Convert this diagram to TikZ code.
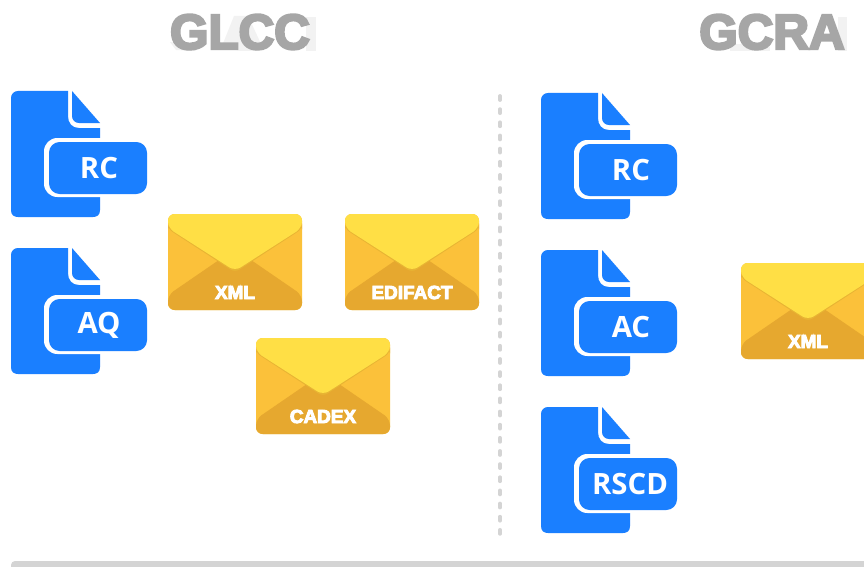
\documentclass[tikz,border=0pt]{standalone}
\usepackage{fontspec}
\setmainfont{Liberation Sans}
\newfontfamily\docfont{Open Sans}
\font\titlefont="Liberation Sans Bold:embolden=5" at 37pt
\font\envfont="Liberation Sans Bold:embolden=5" at 14.2pt
\definecolor{docblue}{HTML}{1A7FFF}
\definecolor{flapc}{HTML}{FFDF45}
\definecolor{sidec}{HTML}{FBC13A}
\definecolor{basec}{HTML}{E6A82F}
\definecolor{seamc}{HTML}{E8B433}
\definecolor{titlec}{HTML}{A6A6A6}
\definecolor{ghostc}{HTML}{F2F2F2}
\definecolor{rulec}{HTML}{D4D4D4}
\tikzset{
  doclabel/.style={text=white,font=\docfont\bfseries\fontsize{22}{24}\selectfont,inner sep=0pt,anchor=center},
  envlabel/.style={text=white,font=\envfont,inner sep=0pt,anchor=center},
  titletext/.style={text=titlec,font=\titlefont,inner sep=0pt,anchor=center},
  ghostshape/.style={fill=ghostc,draw=none},
}
% #1 x, #2 y, #3 node name, #4 text, #5 text x offset
\newcommand{\docicon}[5]{%
  \begin{scope}[shift={(#1,#2)}]
    \fill[docblue] (7,0) -- (57,0) -- (57,25) .. controls (57,32) and (61,37) .. (68,37) -- (89,37) -- (89,119) .. controls (89,124) and (86,126) .. (82,126) -- (7,126) .. controls (3,126) and (0,124) .. (0,119) -- (0,7) .. controls (0,3) and (3,0) .. (7,0) -- cycle;
    \fill[docblue] (61,0) -- (89,32) -- (68,32) .. controls (64,32) and (61,29) .. (61,25) -- cycle;
    \fill[white,rounded corners=10] (33,47) rectangle (141,106);
    \fill[docblue,rounded corners=8] (38,51) rectangle (136,103);
    \node[doclabel] (#3) at (#5,77) {#4};
  \end{scope}}
% #1 x, #2 y, #3 node name, #4 text
\newcommand{\envicon}[4]{%
  \begin{scope}[shift={(#1,#2)}]
    \fill[sidec,rounded corners=5] (0,0) rectangle (134,96);
    \fill[basec,rounded corners=5] (0,81) -- (67,35) -- (134,81) -- (134,96) -- (0,96) -- cycle;
    \fill[seamc,rounded corners=4] (0,15) -- (67,58.5) -- (134,15) -- (134,10) -- (0,10) -- cycle;
    \fill[flapc,rounded corners=5] (0,14) -- (0,0) -- (134,0) -- (134,14) -- (67,57) -- cycle;
    \node[envlabel] (#3) at (67,78.5) {#4};
  \end{scope}}
\begin{document}
\begin{tikzpicture}[x=0.75pt,y=-0.75pt]
  \useasboundingbox (0,0) rectangle (864,567);
  \clip (0,0) rectangle (864,567);
  \fill[white] (0,0) rectangle (864,567);
  % faint shadow behind the titles
  \fill[ghostshape] (306,17) rectangle (316,51);
  \fill[ghostshape] (170,42) -- (176,50) -- (195,51) -- (200,46) -- cycle;
  \fill[ghostshape] (222,46) -- (234,16) -- (248,16) -- (262,46) -- (256,51) -- (240,51) -- cycle;
  \fill[ghostshape] (838,17) rectangle (847,51);
  \fill[ghostshape] (730,44) rectangle (770,51);
  % titles
  \node[titletext] (titleL) at (240,32) {GLCC};
  \node[titletext] (titleR) at (772,32) {GCRA};
  % divider
  \coordinate (divtop) at (500,96);
  \coordinate (divbot) at (500,537);
  \draw[rulec,line width=2.8pt,line cap=round,dash pattern=on 3pt off 6.86pt] (divtop) -- (divbot);
  % bottom bar
  \fill[rulec,rounded corners=3] (11,561) rectangle (880,580);
  % documents
  \docicon{11}{91}{docRCa}{RC}{88}
  \docicon{11}{248}{docAQ}{AQ}{88}
  \docicon{541}{93}{docRCb}{RC}{90}
  \docicon{541}{250}{docAC}{AC}{90}
  \docicon{541}{407}{docRSCD}{RSCD}{89}
  % envelopes
  \envicon{168}{214}{envXMLa}{XML}
  \envicon{345}{214}{envEDI}{EDIFACT}
  \envicon{256}{338}{envCADEX}{CADEX}
  \envicon{741}{263}{envXMLb}{XML}
\end{tikzpicture}
\end{document}
